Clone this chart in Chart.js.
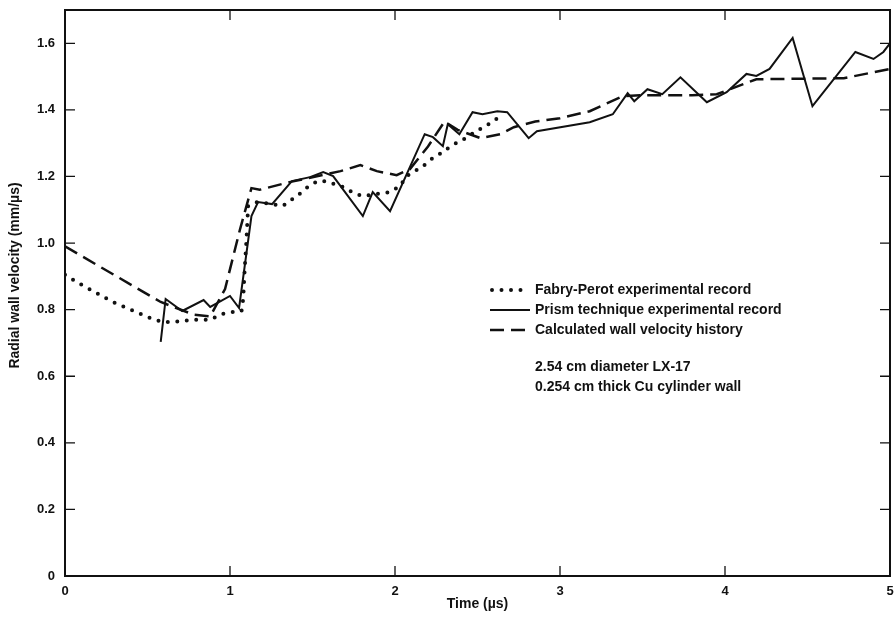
<!DOCTYPE html>
<html>
<head>
<meta charset="utf-8">
<script src="https://cdn.jsdelivr.net/npm/chart.js@4.4.1/dist/chart.umd.min.js"></script>
<style>
  html, body { margin: 0; padding: 0; background: #fff; }
  #wrap { width: 894px; height: 627px; }
</style>
</head>
<body>
<div id="wrap"><canvas id="velChart"></canvas></div>
<script>
// Fabry-Perot experimental record (dotted)
const fabryX = [0, 0.07, 0.29, 0.53, 0.59, 0.66, 0.77, 0.82, 0.88, 0.95, 1.02, 1.07, 1.08, 1.09, 1.10, 1.11, 1.16, 1.26, 1.32, 1.42, 1.47, 1.53, 1.58, 1.69, 1.74, 1.80, 1.97, 2.03, 2.07, 2.11, 2.17, 2.22, 2.27, 2.33, 2.38, 2.44, 2.49, 2.55, 2.60, 2.64];
const fabryY = [0.905, 0.883, 0.823, 0.772, 0.763, 0.763, 0.769, 0.770, 0.770, 0.787, 0.793, 0.796, 0.832, 0.930, 1.012, 1.111, 1.123, 1.117, 1.111, 1.147, 1.168, 1.186, 1.186, 1.168, 1.153, 1.141, 1.153, 1.171, 1.201, 1.213, 1.231, 1.252, 1.267, 1.288, 1.303, 1.318, 1.336, 1.351, 1.369, 1.380];

// Prism technique experimental record (solid)
const prismX = [0.58, 0.61, 0.71, 0.84, 0.88, 1.00, 1.055, 1.13, 1.17, 1.255, 1.375, 1.485, 1.565, 1.625, 1.805, 1.865, 1.97, 2.18, 2.23, 2.29, 2.32, 2.39, 2.47, 2.53, 2.62, 2.68, 2.81, 2.86, 3.18, 3.32, 3.41, 3.45, 3.53, 3.62, 3.73, 3.89, 4.01, 4.13, 4.19, 4.27, 4.41, 4.53, 4.79, 4.90, 4.96, 5.00];
const prismY = [0.703, 0.832, 0.796, 0.829, 0.808, 0.841, 0.805, 1.081, 1.123, 1.117, 1.186, 1.198, 1.213, 1.201, 1.081, 1.153, 1.096, 1.327, 1.318, 1.291, 1.357, 1.327, 1.393, 1.387, 1.396, 1.393, 1.315, 1.336, 1.363, 1.387, 1.450, 1.426, 1.462, 1.447, 1.498, 1.423, 1.453, 1.508, 1.502, 1.523, 1.616, 1.411, 1.574, 1.553, 1.574, 1.600];

// Calculated wall velocity history (dashed)
const calcX = [0, 0.58, 0.78, 0.88, 0.97, 1.06, 1.13, 1.18, 1.36, 1.67, 1.79, 1.89, 2.01, 2.09, 2.20, 2.30, 2.38, 2.52, 2.64, 2.72, 2.85, 3.00, 3.18, 3.38, 3.50, 3.80, 3.95, 4.19, 4.72, 5.00];
const calcY = [0.99, 0.823, 0.785, 0.780, 0.862, 1.040, 1.165, 1.160, 1.183, 1.216, 1.234, 1.216, 1.204, 1.222, 1.290, 1.365, 1.340, 1.315, 1.327, 1.348, 1.365, 1.375, 1.396, 1.441, 1.444, 1.444, 1.447, 1.492, 1.495, 1.523];

const xTicks = [0, 1, 2, 3, 4, 5];
const xTickLabels = ['0', '1', '2', '3', '4', '5'];
const yTicks = [0, 0.2, 0.4, 0.6, 0.8, 1.0, 1.2, 1.4, 1.6];
const yTickLabels = ['0', '0.2', '0.4', '0.6', '0.8', '1.0', '1.2', '1.4', '1.6'];

const seriesLabels = ['Fabry-Perot experimental record', 'Prism technique experimental record', 'Calculated wall velocity history'];
const notes = ['2.54 cm diameter LX-17', '0.254 cm thick Cu cylinder wall'];

const ink = '#111';
const fontFamily = '"Liberation Sans", Arial, sans-serif';

function toPoints(xs, ys) {
  return xs.map((x, i) => ({ x: x, y: ys[i] }));
}

// frame and inward tick marks
const framePlugin = {
  id: 'frame',
  afterDraw(chart) {
    const { ctx, chartArea: a, scales } = chart;
    const len = 10;
    ctx.save();
    ctx.strokeStyle = ink;
    ctx.lineWidth = 2;
    ctx.strokeRect(a.left, a.top, a.right - a.left, a.bottom - a.top);
    ctx.lineWidth = 1.3;
    ctx.beginPath();
    xTicks.forEach(v => {
      const px = scales.x.getPixelForValue(v);
      ctx.moveTo(px, a.bottom); ctx.lineTo(px, a.bottom - len);
      ctx.moveTo(px, a.top); ctx.lineTo(px, a.top + len);
    });
    yTicks.forEach(v => {
      const py = scales.y.getPixelForValue(v);
      ctx.moveTo(a.left, py); ctx.lineTo(a.left + len, py);
      ctx.moveTo(a.right, py); ctx.lineTo(a.right - len, py);
    });
    ctx.stroke();
    ctx.restore();
  }
};

// legend and notes inside the plot
const legendPlugin = {
  id: 'innerLegend',
  afterDraw(chart) {
    const ctx = chart.ctx;
    ctx.save();
    ctx.fillStyle = ink;
    ctx.strokeStyle = ink;
    ctx.font = 'bold 14px ' + fontFamily;
    ctx.textBaseline = 'middle';
    chart.data.datasets.forEach((ds, i) => {
      const y = 290 + i * 20;
      const dotted = ds.borderCapStyle === 'round';
      ctx.beginPath();
      ctx.setLineDash(ds.borderDash || []);
      ctx.lineWidth = ds.borderWidth;
      ctx.lineCap = ds.borderCapStyle || 'butt';
      ctx.moveTo(dotted ? 492 : 490, y);
      ctx.lineTo(dotted ? 522 : 530, y);
      ctx.stroke();
      ctx.setLineDash([]);
      ctx.fillText(ds.label, 535, y);
    });
    notes.forEach((t, i) => ctx.fillText(t, 535, 367 + i * 20));
    ctx.restore();
  }
};

const ctx = document.getElementById('velChart').getContext('2d');
const velChart = new Chart(ctx, {
  type: 'scatter',
  data: {
    datasets: [
      {
        label: seriesLabels[0],
        data: toPoints(fabryX, fabryY),
        showLine: true,
        borderColor: ink,
        borderWidth: 4,
        borderDash: [0, 9.5],
        borderCapStyle: 'round',
        pointRadius: 0,
        tension: 0
      },
      {
        label: seriesLabels[1],
        data: toPoints(prismX, prismY),
        showLine: true,
        borderColor: ink,
        borderWidth: 2,
        pointRadius: 0,
        tension: 0
      },
      {
        label: seriesLabels[2],
        data: toPoints(calcX, calcY),
        showLine: true,
        borderColor: ink,
        borderWidth: 2.5,
        borderDash: [14, 7],
        pointRadius: 0,
        tension: 0
      }
    ]
  },
  options: {
    responsive: true,
    maintainAspectRatio: false,
    animation: false,
    layout: { padding: { top: 10, right: 4, left: 0, bottom: 0 } },
    plugins: {
      legend: { display: false },
      tooltip: { enabled: false }
    },
    scales: {
      x: {
        type: 'linear',
        min: 0,
        max: 5,
        afterBuildTicks: s => { s.ticks = xTicks.map(v => ({ value: v })); },
        afterFit: s => { s.height = 51; s.paddingRight = 0; s.paddingLeft = 0; },
        grid: { display: false },
        border: { display: false },
        ticks: {
          color: ink,
          padding: 0,
          maxRotation: 0,
          font: { family: fontFamily, size: 13, weight: 'bold' },
          callback: (v, i) => xTickLabels[i]
        },
        title: {
          display: true,
          text: 'Time (µs)',
          color: ink,
          padding: { top: 4, bottom: 14 },
          font: { family: fontFamily, size: 14, weight: 'bold' }
        }
      },
      y: {
        min: 0,
        max: 1.7,
        afterBuildTicks: s => { s.ticks = yTicks.map(v => ({ value: v })); },
        afterFit: s => { s.width = 65; },
        grid: { display: false },
        border: { display: false },
        ticks: {
          color: ink,
          padding: 2,
          font: { family: fontFamily, size: 13, weight: 'bold' },
          callback: (v, i) => yTickLabels[i]
        },
        title: {
          display: true,
          text: '\u00a0\u00a0\u00a0\u00a0\u00a0\u00a0\u00a0\u00a0\u00a0Radial wall velocity (mm/µs)',
          color: ink,
          padding: { top: 7, bottom: 2 },
          font: { family: fontFamily, size: 14, weight: 'bold' }
        }
      }
    }
  },
  plugins: [framePlugin, legendPlugin]
});
</script>
</body>
</html>
